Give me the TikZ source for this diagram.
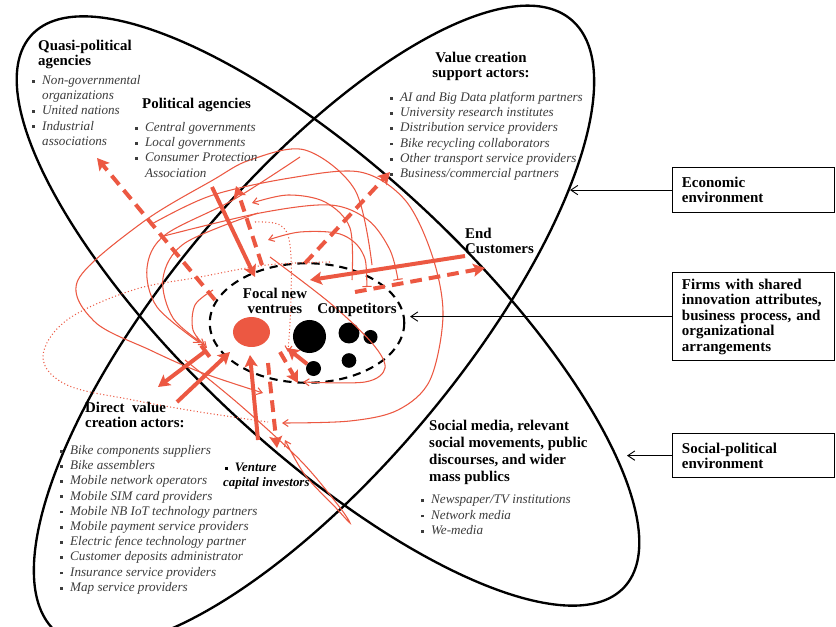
\documentclass[tikz,border=0pt]{standalone}
\usepackage{fontspec}
\setmainfont{Liberation Serif}
\usepackage{xcolor}
\usetikzlibrary{arrows.meta,shapes.geometric}
\definecolor{flowred}{RGB}{236,88,66}
\definecolor{itemgray}{RGB}{60,60,60}
\newcommand{\sq}{\makebox[8.5pt][l]{\raisebox{0.3ex}{\rule{2.4pt}{2.4pt}}}}
\newcommand{\hang}{\hspace*{8.5pt}}
\newcommand{\flowline}[2][]{\draw[flow,#1] plot[smooth,tension=0.55] coordinates {#2};}

\begin{document}
\begin{tikzpicture}[x=0.3mm,y=-0.3mm,
    head/.style={inner sep=0pt,anchor=north west,align=left,font=\fontsize{12.7}{12.8}\selectfont\bfseries},
    items/.style={inner sep=0pt,anchor=north west,align=left,text=itemgray,font=\fontsize{11.2}{13}\selectfont\itshape},
    envbox/.style={draw,line width=1pt,anchor=north west,align=left,inner xsep=8pt,inner ysep=0pt,text width=122pt,font=\fontsize{12.8}{13.2}\selectfont\bfseries},
    envarrow/.style={line width=0.8pt,-{Straight Barb[length=6pt,width=8pt]}},
    sphere/.style={line width=2pt},
    rival/.style={circle,fill=black,inner sep=0pt},
    flow/.style={flowred,line width=0.9pt,-{Straight Barb[length=4.5pt,width=6pt]}},
    flowdot/.style={flowred,line width=0.9pt,dotted},
    push/.style={flowred,line width=3.4pt,-{Stealth[length=10pt,width=11pt,inset=2pt]}},
    pushdash/.style={push,dash pattern=on 10pt off 6pt}]
  \path[use as bounding box,fill=white] (0,0) rectangle (836,626);

  \draw[sphere,rotate around={-43:(328,311)}] (328,311) ellipse [x radius=405,y radius=140];
  \draw[sphere,rotate around={50:(314,326)}] (314,326) ellipse [x radius=400,y radius=145];

  \node[ellipse,draw,line width=1.8pt,dash pattern=on 7pt off 5pt,minimum width=166pt,minimum height=102pt,inner sep=0pt,outer sep=0pt] (field) at (307,323) {};
  \node[ellipse,fill=flowred,minimum width=31.6pt,minimum height=25.6pt,inner sep=0pt] (focal) at (251.5,332) {};
  \node[rival,minimum size=28.2pt] (c1) at (309.5,336.5) {};
  \node[rival,minimum size=17.9pt] (c2) at (349,333) {};
  \node[rival,minimum size=12pt] (c3) at (370.5,337) {};
  \node[rival,minimum size=12.5pt] (c4) at (349,360.5) {};
  \node[rival,minimum size=12.8pt] (c5) at (313.5,368.5) {};

  \flowline{(372,265) (355,190) (305,150) (250,160) (213,180) (143,222) (78,280) (95,322) (150,350) (200,372) (263,393)}
  \flowline{(150,225) (210,196) (290,178) (360,172) (405,200) (432,255) (443,315) (430,380) (398,410) (350,421) (282,423)}
  \flowline[-{Bar[width=8pt]}]{(160,237) (260,213) (330,205) (368,220) (390,250) (398,280)}
  \flowline{(352,280) (350,228) (325,202) (288,195) (252,203)}
  \flowline[{Bar[width=8pt]}-{Straight Barb[length=4.5pt,width=6pt]}]{(367,287) (362,252) (340,234) (300,232) (268,240)}
  \flowline{(270,257) (330,303) (372,343) (385,368) (365,382) (303,382)}
  \flowline{(185,360) (240,405) (300,460) (338,505) (350,523) (336,508) (305,475) (285,440)}
  \flowline{(300,157) (233,200) (165,235) (147,268) (157,307) (200,343)}
  \flowline{(258,213) (185,243) (163,278) (173,318) (205,345)}
  \flowline{(213,290) (195,305) (193,330) (207,348)}
  \draw[flowdot] plot[smooth,tension=0.6] coordinates {(330,262) (267,265) (200,277) (133,290) (67,320) (43,357) (67,385) (133,400) (200,412) (268,422)};
  \draw[flowdot,-{Straight Barb[length=4.5pt,width=6pt]}] plot[smooth,tension=0.6] coordinates {(255,222) (280,225) (290,245) (291,300) (288,352)};

  \coordinate (fieldWest) at (215,300);
  \coordinate (toQuasi) at (97,158);
  \coordinate (toSupport) at (390,172);
  \coordinate (ventOut) at (355,292);
  \coordinate (toCustomer) at (485,268);
  \coordinate (fromCustomer) at (465,256);
  \coordinate (custIn) at (310,280);
  \coordinate (fromPolitical) at (212,187);
  \coordinate (polIn) at (255,277);
  \coordinate (polOut) at (262,265);
  \coordinate (toPolitical) at (236,186);
  \coordinate (fromDirect) at (177,402);
  \coordinate (directIn) at (230,352);
  \coordinate (directOut) at (207,350);
  \coordinate (toDirect) at (158,387);
  \coordinate (fromVenture) at (258,440);
  \coordinate (ventIn) at (250,355);
  \coordinate (ventDown) at (268,363);
  \coordinate (toVenture) at (277,448);
  \coordinate (rivalIn) at (287,348);
  \coordinate (rivalOut) at (280,352);
  \coordinate (rivalDown) at (298,383);

  \draw[pushdash] (fieldWest) -- (toQuasi);
  \draw[pushdash] (field.92) -- (toSupport);
  \draw[pushdash] (ventOut) -- (toCustomer);
  \draw[push] (fromCustomer) -- (custIn);
  \draw[push] (fromPolitical) -- (polIn);
  \draw[pushdash] (polOut) -- (toPolitical);
  \draw[push] (fromDirect) -- (directIn);
  \draw[push,{Bar[width=12pt]}-{Stealth[length=10pt,width=11pt,inset=2pt]}] (directOut) -- (toDirect);
  \draw[push] (fromVenture) -- (ventIn);
  \draw[pushdash] (ventDown) -- (toVenture);
  \draw[push] (c5.145) -- (rivalIn);
  \draw[pushdash] (rivalOut) -- (rivalDown);

  \node[head] (quasiHead) at (38,40) {Quasi-political\\agencies};
  \node[items] (quasiList) at (32,75) {\sq Non-governmental\\\hang organizations\\\sq United nations\\\sq Industrial\\\hang associations};
  \node[head] (polHead) at (142,98) {Political agencies};
  \node[items] (polList) at (135,122) {\sq Central governments\\\sq Local governments\\\sq Consumer Protection\\\hang Association};
  \node[head,anchor=north,align=center] (valueHead) at (481,52) {Value creation\\support actors:};
  \node[items] (valueList) at (390,92) {\sq AI and Big Data platform partners\\\sq University research institutes\\\sq Distribution service providers\\\sq Bike recycling collaborators\\\sq Other transport service providers\\\sq Business/commercial partners};
  \node[head] (endLbl) at (465,228) {End\\Customers};
  \node[head,anchor=north,align=center] (focalLbl) at (275,288) {Focal new\\ventrues};
  \node[head,anchor=north] (rivalLbl) at (357,303) {Competitors};
  \node[head] (directHead) at (85,402) {Direct\ \ value\\creation actors:};
  \node[items] (directList) at (60,445) {\sq Bike components suppliers\\\sq Bike assemblers\\\sq Mobile network operators\\\sq Mobile SIM card providers\\\sq Mobile NB IoT technology partners\\\sq Mobile payment service providers\\\sq Electric fence technology partner\\\sq Customer deposits administrator\\\sq Insurance service providers\\\sq Map service providers};
  \node[items,text=black,font=\fontsize{11}{13}\selectfont\bfseries\itshape] (venture) at (223,463) {\hspace*{1.5pt}\sq Venture\\capital investors};
  \node[head,font=\fontsize{12.7}{14.5}\selectfont\bfseries] (socialHead) at (429,420) {Social media, relevant\\social movements, public\\discourses, and wider\\mass publics};
  \node[items] (socialList) at (421,495) {\sq Newspaper/TV institutions\\\sq Network media\\\sq We-media};

  \node[envbox,minimum height=38.4pt] (econ) at (672,167) {Economic\\environment};
  \node[envbox,minimum height=75.1pt] (firms) at (672,272) {Firms with shared\\innovation attributes,\\business process, and\\organizational\\arrangements};
  \node[envbox,minimum height=37.6pt] (socpol) at (672,433) {Social-political\\environment};
  \coordinate (econTip) at (570,190);
  \coordinate (firmsTip) at (410,316);
  \coordinate (socpolTip) at (627,455);
  \draw[envarrow] (econ.west) -- (econ.west -| econTip);
  \draw[envarrow] (firms.west) -- (firms.west -| firmsTip);
  \draw[envarrow] (socpol.west) -- (socpol.west -| socpolTip);
\end{tikzpicture}
\end{document}
